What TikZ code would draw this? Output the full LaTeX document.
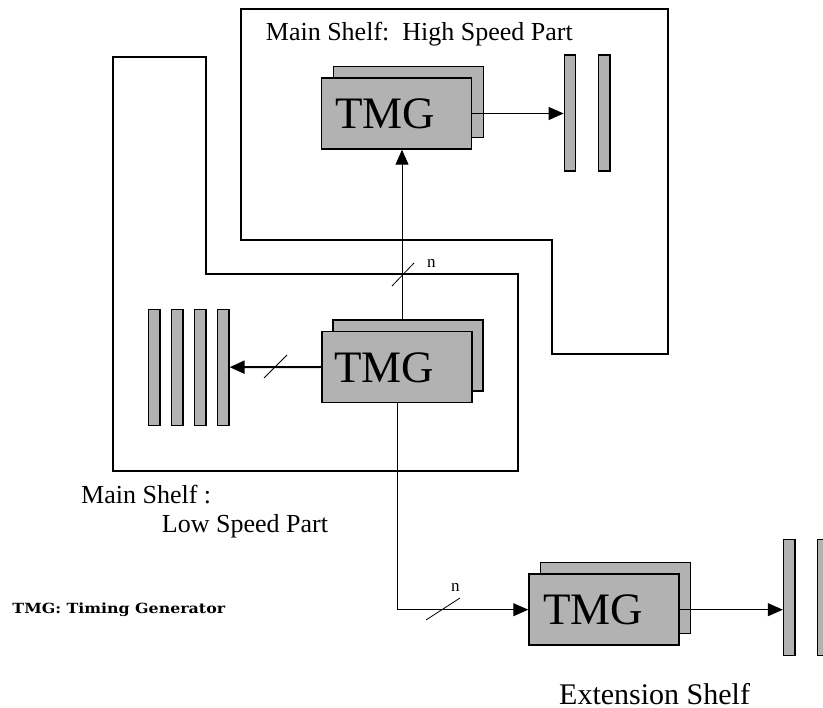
\documentclass[tikz,border=0pt]{standalone}
\usepackage{fontspec}
\usepackage{graphicx}
\setmainfont{Liberation Serif}
\newfontfamily\legendfont{DejaVu Serif}
\usetikzlibrary{arrows.meta}
\definecolor{boxgray}{RGB}{178,178,178}
\begin{document}
\begin{tikzpicture}[x=1pt,y=-1pt,
  shelfline/.style={line width=1.7pt, line join=miter},
  tmgbox/.style={draw, line width=1.5pt, fill=boxgray, minimum width=150pt, minimum height=71pt, inner sep=0pt},
  tmgtext/.style={inner sep=0pt, font=\fontsize{45}{50}\selectfont},
  bar/.style={draw, line width=1.3pt, fill=boxgray, minimum width=11.5pt, minimum height=116pt, inner sep=0pt},
  conn/.style={line width=1pt},
  arr/.style={line width=1pt, -{Triangle[length=15pt,width=13pt]}},
  slash/.style={line width=0.8pt},
  lbl/.style={inner sep=0pt, anchor=base west},
  nfont/.style={font=\fontsize{17}{19}\selectfont},
  bigfont/.style={font=\fontsize{26}{30}\selectfont},
]
\useasboundingbox (0,0) rectangle (823,708);
\clip (0,0) rectangle (823,708);

% shelf outlines
\draw[shelfline] (241,9) -- (668,9) -- (668,354) -- (552,354) -- (552,240) -- (241,240) -- cycle;
\draw[shelfline] (113,57) -- (206,57) -- (206,274) -- (518,274) -- (518,471) -- (113,471) -- cycle;

% TMG boxes (back then front)
\node[tmgbox] (tmgAback) at (408.3,102) {};
\node[tmgbox] (tmgAfront) at (396.5,113.5) {};
\node[tmgtext] (tmgAtext) at (385,114) {TMG};

\node[tmgbox] (tmgBback) at (408,355.7) {};
\node[tmgbox] (tmgBfront) at (397,367) {};
\node[tmgtext] (tmgBtext) at (384,367.5) {TMG};

\node[tmgbox] (tmgCback) at (615.7,598) {};
\node[tmgbox] (tmgCfront) at (604,609.7) {};
\node[tmgtext] (tmgCtext) at (593,610) {TMG};

% bars
\node[bar] (barA1) at (570,113) {};
\node[bar] (barA2) at (604.3,113) {};

\node[bar] (barB1) at (154.2,367.2) {};
\node[bar] (barB2) at (177.2,367.2) {};
\node[bar] (barB3) at (200.2,367.2) {};
\node[bar] (barB4) at (223.2,367.2) {};

\node[bar] (barC1) at (789.2,597.2) {};
\node[bar] (barC2) at (823.3,597.2) {};

% connectors
\draw[arr] (tmgAfront.east) -- (tmgAfront.east -| barA1.west);
\draw[arr] ([xshift=-6pt]tmgBback.north) -- ([xshift=-6pt]tmgBback.north |- tmgAfront.south);
\draw[slash] (392,286) -- (414,263);
\node[lbl, nfont] (nA) at (427,268) {n};

\draw[line width=2pt, -{Triangle[length=15pt,width=13pt]}] (tmgBfront.west) -- (barB4.east);
\draw[slash] (264,378) -- (287,355);

\draw[arr] (tmgBfront.south) |- (tmgCfront.west);
\draw[slash] (426,620) -- (460,598);
\node[lbl, nfont] (nC) at (451,592) {n};

\draw[arr] (tmgCfront.east) -- (tmgCfront.east -| barC1.west);

% labels
\node[lbl, bigfont] (hslabel) at (265.7,40.7) {Main Shelf:\ \ High Speed Part};
\node[lbl, bigfont] (lslabel1) at (81,503.3) {Main Shelf :};
\node[lbl, bigfont] (lslabel2) at (161.7,532.7) {Low Speed Part};
\node[lbl, font=\legendfont\bfseries\fontsize{14}{16}\selectfont] (legend) at (12.3,613.3) {\scalebox{1.13}[1]{TMG: Timing Generator}};
\node[lbl, font=\fontsize{30}{34}\selectfont] (extlabel) at (559,705) {Extension Shelf};
\end{tikzpicture}
\end{document}
